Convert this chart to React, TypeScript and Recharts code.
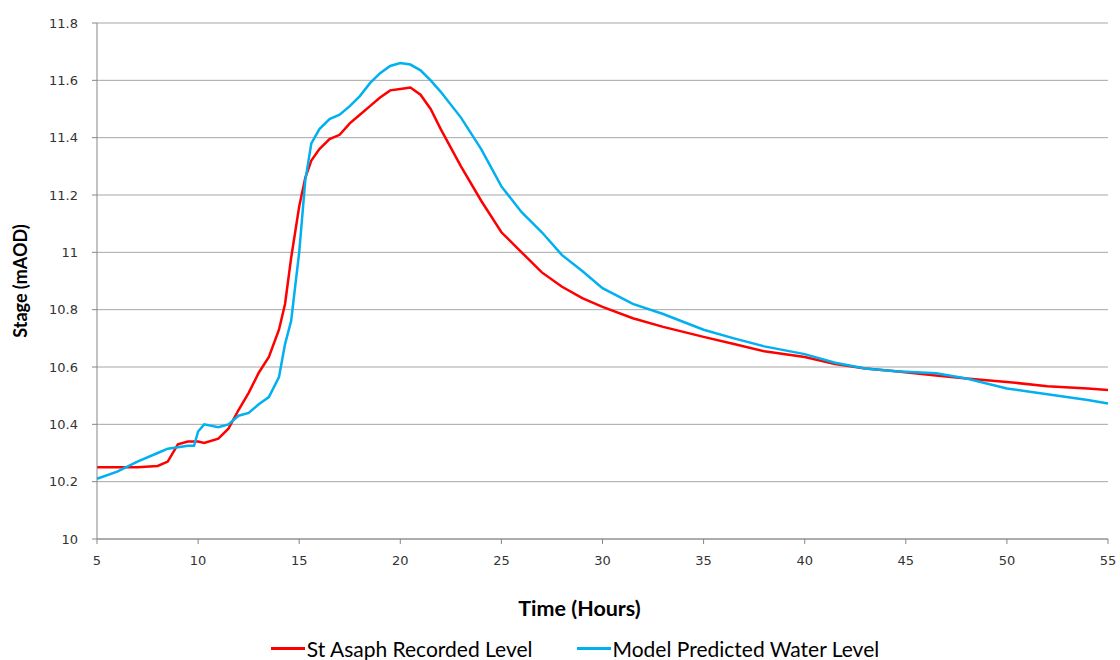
import { LineChart, Line, XAxis, YAxis, CartesianGrid, Legend } from "recharts";

const hours = [
  5, 6, 7, 8, 8.5, 9, 9.5, 9.8, 10, 10.3, 11, 11.5, 12, 12.5, 13, 13.5, 14, 14.3, 14.6, 15,
  15.3, 15.6, 16, 16.5, 17, 17.5, 18, 18.5, 19, 19.5, 20, 20.5, 21, 21.5, 22, 23, 24, 25, 26,
  27, 28, 29, 30, 31.5, 33, 35, 36.5, 38, 40, 41.5, 43, 44.5, 46.5, 48, 50, 52, 54, 55,
];

const recordedLevel = [
  10.25, 10.25, 10.25, 10.255, 10.27, 10.33, 10.34, 10.34, 10.34, 10.335, 10.35, 10.385, 10.45,
  10.51, 10.58, 10.635, 10.73, 10.82, 10.98, 11.16, 11.26, 11.32, 11.36, 11.395, 11.41, 11.45,
  11.48, 11.51, 11.54, 11.565, 11.57, 11.575, 11.55, 11.5, 11.43, 11.3, 11.18, 11.07, 11.0, 10.93,
  10.88, 10.84, 10.81, 10.77, 10.74, 10.705, 10.68, 10.655, 10.635, 10.61, 10.595, 10.585, 10.57,
  10.56, 10.548, 10.533, 10.525, 10.52,
];

const modelLevel = [
  10.21, 10.235, 10.27, 10.3, 10.315, 10.32, 10.325, 10.325, 10.375, 10.4, 10.39, 10.4, 10.43,
  10.44, 10.47, 10.495, 10.565, 10.68, 10.76, 11.0, 11.25, 11.38, 11.43, 11.465, 11.48, 11.51,
  11.545, 11.59, 11.625, 11.65, 11.66, 11.655, 11.635, 11.6, 11.56, 11.47, 11.36, 11.23, 11.14,
  11.07, 10.99, 10.935, 10.875, 10.82, 10.785, 10.73, 10.7, 10.672, 10.645, 10.615, 10.595,
  10.585, 10.578, 10.56, 10.525, 10.505, 10.485, 10.473,
];

const xTicks = [5, 10, 15, 20, 25, 30, 35, 40, 45, 50, 55];
const yTicks = [10, 10.2, 10.4, 10.6, 10.8, 11, 11.2, 11.4, 11.6, 11.8];

const seriesNames = ["St Asaph Recorded Level", "Model Predicted Water Level"];

const data = hours.map((t, i) => ({
  t,
  recorded: recordedLevel[i],
  model: modelLevel[i],
}));

const axisGrey = "#868686";
const font = "Lato, 'Open Sans', sans-serif";
const tickFont = "'DejaVu Sans', Verdana, sans-serif";

function LegendContent() {
  const colors = ["#FF0000", "#00B0F0"];
  return (
    <div
      style={{
        display: "flex",
        justifyContent: "center",
        paddingLeft: 30,
        fontFamily: font,
        fontSize: 21,
        color: "#000",
        lineHeight: "21px",
        height: 21,
      }}
    >
      {seriesNames.map((name, i) => (
        <div key={name} style={{ display: "flex", alignItems: "center", marginRight: i === 0 ? 44 : 0 }}>
          <span style={{ display: "inline-block", width: 34, height: 3, background: colors[i], marginRight: 2 }} />
          <span>{name}</span>
        </div>
      ))}
    </div>
  );
}

export default function App() {
  return (
    <div style={{ position: "absolute", left: 0, top: 0, width: 1120, height: 660, background: "#fff" }}>
      <LineChart width={1120} height={660} data={data} margin={{ top: 23, right: 12, bottom: 41, left: 0 }}>
        <CartesianGrid vertical={false} stroke="#A6A6A6" strokeWidth={1} />
        <XAxis
          dataKey="t"
          type="number"
          domain={[5, 55]}
          ticks={xTicks}
          height={80}
          stroke={axisGrey}
          tickSize={5}
          tick={{ fontSize: 13, fill: "#333", fontFamily: tickFont }}
          tickMargin={12}
          label={{
            value: "Time (Hours)",
            position: "insideBottom",
            offset: 3,
            dx: -23,
            style: { fontSize: 21.5, fontWeight: "bold", fill: "#000", fontFamily: font },
          }}
        />
        <YAxis
          type="number"
          domain={[10, 11.8]}
          ticks={yTicks}
          width={97}
          stroke={axisGrey}
          tickSize={5}
          tickMargin={14}
          tickFormatter={(v: number) => String(v)}
          tick={{ fontSize: 13, fill: "#333", fontFamily: tickFont }}
          label={{
            value: "Stage (mAOD)",
            angle: -90,
            position: "insideLeft",
            offset: 21,
            style: { textAnchor: "middle", fontSize: 18, fontWeight: "bold", fill: "#000", fontFamily: font },
          }}
        />
        <Legend
          layout="horizontal"
          verticalAlign="middle"
          align="center"
          wrapperStyle={{ left: 0, top: 638, width: 1120 }}
          content={() => <LegendContent />}
        />
        <Line
          type="linear"
          dataKey="recorded"
          name={seriesNames[0]}
          stroke="#FF0000"
          strokeWidth={2.5}
          dot={false}
          isAnimationActive={false}
        />
        <Line
          type="linear"
          dataKey="model"
          name={seriesNames[1]}
          stroke="#00B0F0"
          strokeWidth={2.5}
          dot={false}
          isAnimationActive={false}
        />
      </LineChart>
    </div>
  );
}
